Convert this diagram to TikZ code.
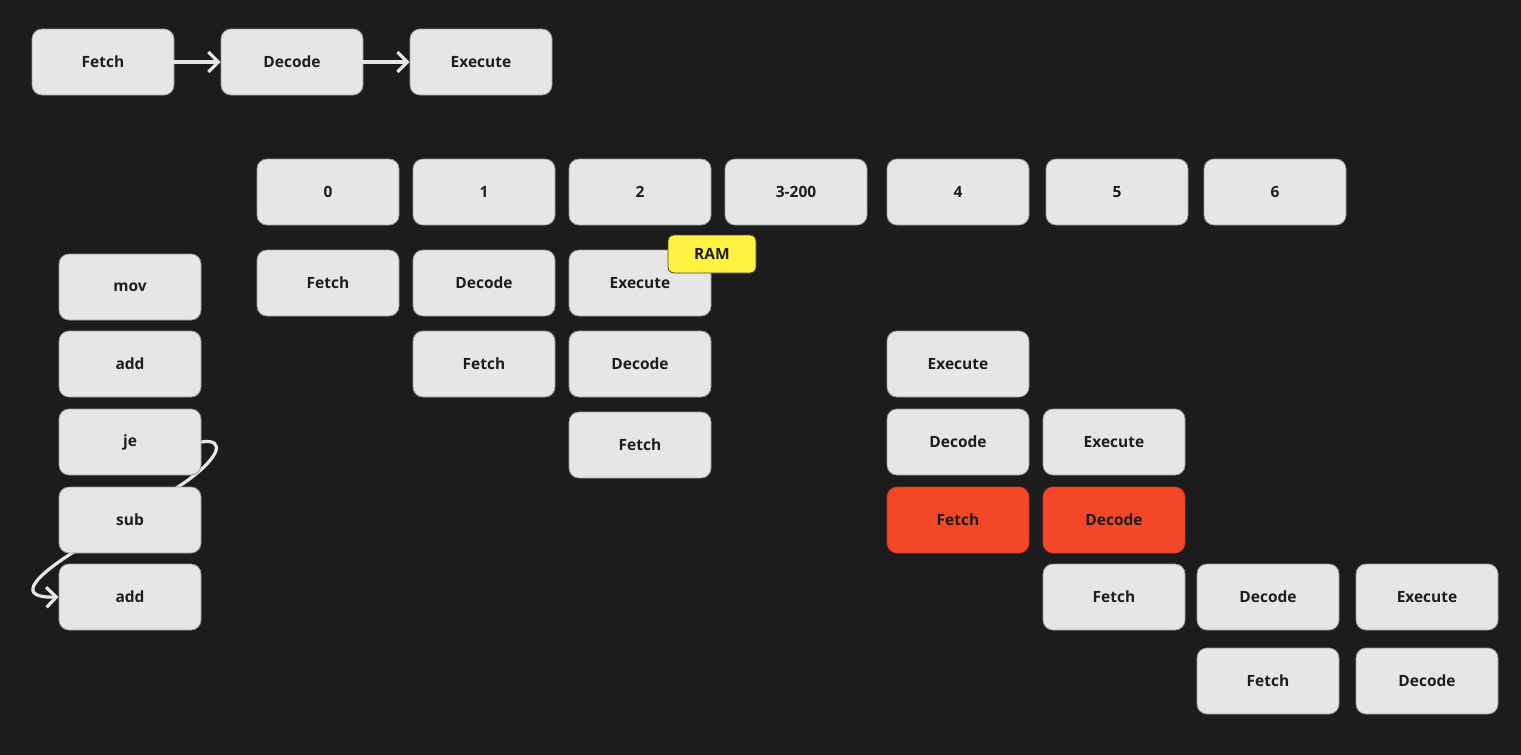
\documentclass[tikz,border=0pt]{standalone}
\usepackage{fontspec}
\setmainfont{Open Sans}
\usetikzlibrary{arrows.meta,backgrounds}
\definecolor{bg}{HTML}{1C1C1C}
\definecolor{boxfill}{HTML}{E6E6E6}
\definecolor{boxline}{HTML}{9A9A9A}
\definecolor{txt}{HTML}{1E1E1E}
\definecolor{redfill}{HTML}{F24827}
\definecolor{redline}{HTML}{C23A20}
\definecolor{yelfill}{HTML}{FFF13F}
\definecolor{yelline}{HTML}{4A4520}
\tikzset{
  cell/.style={draw=boxline, line width=0.8pt, fill=boxfill, rounded corners=10pt,
    minimum width=142pt, minimum height=66pt, inner sep=0pt, text=txt,
    font=\fontsize{15.5}{18}\selectfont\bfseries},
  hot/.style={cell, fill=redfill, draw=redline},
  tag/.style={draw=yelline, line width=0.8pt, fill=yelfill, rounded corners=6pt,
    minimum width=88pt, minimum height=38pt, inner sep=0pt, text=txt,
    font=\fontsize{15.5}{18}\selectfont\bfseries},
  conn/.style={draw=boxfill, line width=3.2pt, line cap=round,
    -{Straight Barb[length=10pt,width=20pt,line width=3.2pt]}}
}
\begin{document}
\begin{tikzpicture}[x=1pt,y=-1pt]
\useasboundingbox (0,0) rectangle (1521,755);
% top pipeline
\node[cell] (tf) at (103,62) {Fetch};
\node[cell] (td) at (292,62) {Decode};
\node[cell] (te) at (481,62) {Execute};
\draw[conn] (tf) -- (td);
\draw[conn] (td) -- (te);
% header
\node[cell] (h0) at (328,192) {0};
\node[cell] (h1) at (484,192) {1};
\node[cell] (h2) at (640,192) {2};
\node[cell] (h3) at (796,192) {3-200};
\node[cell] (h4) at (958,192) {4};
\node[cell] (h5) at (1117,192) {5};
\node[cell] (h6) at (1275,192) {6};
% instructions
\node[cell] (imov) at (130,287) {mov};
\node[cell] (iadd) at (130,364) {add};
\node[cell] (ije) at (130,442) {je};
\node[cell] (isub) at (130,520) {sub};
\node[cell] (iadd2) at (130,597) {add};
% row 1
\node[cell] (a0) at (328,283) {Fetch};
\node[cell] (a1) at (484,283) {Decode};
\node[cell] (a2) at (640,283) {Execute};
\node[tag] (ram) at (712,254) {RAM};
% row 2
\node[cell] (b1) at (484,364) {Fetch};
\node[cell] (b2) at (640,364) {Decode};
\node[cell] (b4) at (958,364) {Execute};
% row 3
\node[cell] (c2) at (640,445) {Fetch};
\node[cell] (c4) at (958,442) {Decode};
\node[cell] (c5) at (1114,442) {Execute};
% row 4
\node[hot] (d4) at (958,520) {Fetch};
\node[hot] (d5) at (1114,520) {Decode};
% row 5
\node[cell] (e5) at (1114,597) {Fetch};
\node[cell] (e6) at (1268,597) {Decode};
\node[cell] (e7) at (1427,597) {Execute};
% row 6
\node[cell] (f6) at (1268,681) {Fetch};
\node[cell] (f7) at (1427,681) {Decode};
% background and jump connector behind boxes
\begin{pgfonlayer}{background}
\fill[bg] (0,0) rectangle (1521,755);
\draw[conn] (ije.east) .. controls (226,438) and (222,458) .. (178,487)
  -- (72,553) .. controls (30,580) and (18,598) .. (iadd2.west);
\end{pgfonlayer}
\end{tikzpicture}
\end{document}
